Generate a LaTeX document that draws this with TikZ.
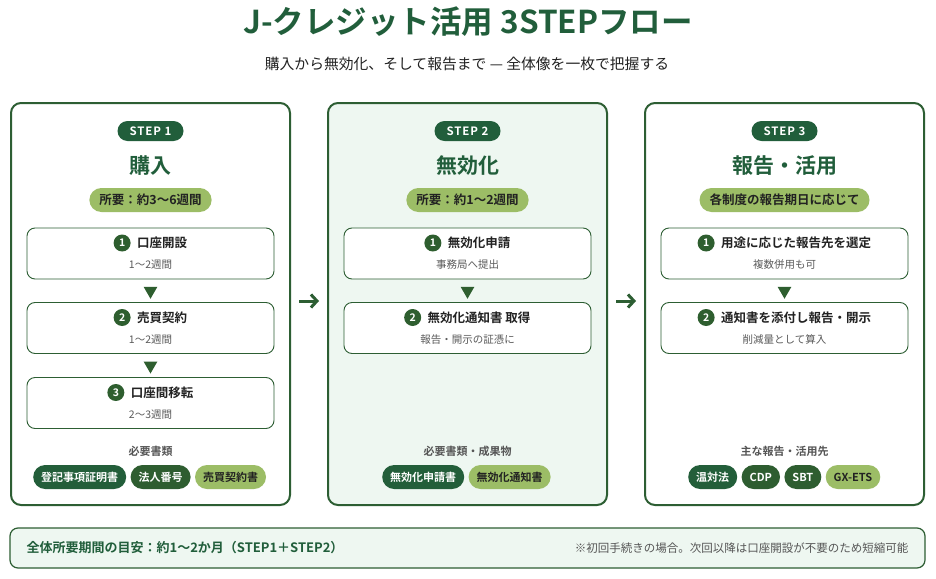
\documentclass[tikz,border=0pt]{standalone}
\usepackage{fontspec}
\setmainfont{Noto Sans CJK JP}[BoldFont={Noto Sans CJK JP Bold}]
\usetikzlibrary{arrows.meta,positioning,shapes.geometric,calc}
\definecolor{dkg}{HTML}{215E3B}
\definecolor{tagA}{HTML}{235E3A}
\definecolor{tagB}{HTML}{2E5D30}
\definecolor{circg}{HTML}{2E5E2F}
\definecolor{pbord}{HTML}{2D5E33}
\definecolor{olv}{HTML}{9CBD66}
\definecolor{lightbg}{HTML}{EEF7F1}
\definecolor{txt}{HTML}{222222}
\definecolor{gray6}{HTML}{5A5A5A}
\definecolor{gray5}{HTML}{555555}
\tikzset{
  panel/.style={draw=pbord, line width=2pt, rounded corners=10pt, minimum width=279pt, minimum height=402pt, inner sep=0pt},
  badge/.style={fill=dkg, text=white, rounded corners=10pt, minimum width=66pt, minimum height=20pt, inner sep=0pt, font=\bfseries\fontsize{11.5}{12}\selectfont\addfontfeature{LetterSpace=8}},
  heading/.style={text=dkg, inner sep=0pt, font=\bfseries\fontsize{21}{24}\selectfont},
  pill/.style={fill=olv, rounded corners=12pt, minimum height=24pt, inner xsep=10pt, inner ysep=0pt, text=txt, font=\bfseries\fontsize{12.5}{14}\selectfont},
  stepbox/.style={draw=pbord, line width=0.9pt, fill=white, rounded corners=8pt, minimum width=247pt, minimum height=51pt, inner sep=0pt},
  numc/.style={circle, fill=circg, text=white, minimum size=17pt, inner sep=0pt, font=\bfseries\fontsize{10.5}{10}\selectfont},
  stitle/.style={text=txt, inner sep=0pt, font=\bfseries\fontsize{12.5}{14}\selectfont},
  ssub/.style={text=gray6, inner sep=0pt, font=\fontsize{10.5}{12}\selectfont},
  tri/.style={regular polygon, regular polygon sides=3, shape border rotate=180, fill=circg, minimum size=16pt, inner sep=0pt},
  sect/.style={text=gray5, inner sep=0pt, font=\bfseries\fontsize{11}{13}\selectfont},
  tagd/.style={fill=tagA, text=white, rounded corners=12pt, minimum height=24pt, inner xsep=8pt, inner ysep=0pt, font=\bfseries\fontsize{11}{13}\selectfont},
  tagm/.style={tagd, fill=tagB},
  tagl/.style={tagd, fill=olv, text=txt},
  flow/.style={draw=pbord, line width=3pt, -{Straight Barb[length=6pt,width=13pt,line width=3pt]}}
}
\begin{document}
\begin{tikzpicture}[x=1pt,y=-1pt]
\useasboundingbox (0,0) rectangle (936,578);
\fill[white] (0,0) rectangle (936,578);

% title
\node[text=dkg, font=\bfseries\fontsize{31.5}{34}\selectfont] (title) at (468,22) {J-クレジット活用 3STEPフロー};
\node[text=txt, font=\fontsize{14.8}{16}\selectfont] (subtitle) at (467,64) {購入から無効化、そして報告まで — 全体像を一枚で把握する};

% panels
\node[panel, fill=white] (p1) at (150.5,304) {};
\node[panel, fill=lightbg] (p2) at (467.5,304) {};
\node[panel, fill=white] (p3) at (784.5,304) {};

\draw[flow] ($(p1.east)+(8,-3)$) -- ($(p2.west)+(-8,-3)$);
\draw[flow] ($(p2.east)+(8,-3)$) -- ($(p3.west)+(-8,-3)$);

% ---------- STEP 1 ----------
\node[badge] (s1b) at (150.5,131) {STEP 1};
\node[heading] (s1h) at (150.5,166) {購入};
\node[pill] (s1p) at (150.5,200) {所要：約3〜6週間};

\node[stepbox] (a1) at (150.5,253.5) {};
\node[stitle] (a1t) at ($(a1.center)+(11.5,-10.5)$) {口座開設};
\node[numc, left=6pt of a1t] (a1n) {1};
\node[ssub] (a1s) at ($(a1.center)+(0,11.5)$) {1〜2週間};

\node[stepbox] (a2) at (150.5,328) {};
\node[stitle] (a2t) at ($(a2.center)+(11.5,-10.5)$) {売買契約};
\node[numc, left=6pt of a2t] (a2n) {2};
\node[ssub] (a2s) at ($(a2.center)+(0,11.5)$) {1〜2週間};

\node[stepbox] (a3) at (150.5,403) {};
\node[stitle] (a3t) at ($(a3.center)+(11.5,-10.5)$) {口座間移転};
\node[numc, left=6pt of a3t] (a3n) {3};
\node[ssub] (a3s) at ($(a3.center)+(0,11.5)$) {2〜3週間};

\node[tri] (a12) at ($(a1.south)!0.5!(a2.north)$) {};
\node[tri] (a23) at ($(a2.south)!0.5!(a3.north)$) {};

\node[sect] (s1sec) at (150.5,451) {必要書類};
\node[tagd, anchor=west] (t11) at (33,477) {登記事項証明書};
\node[tagm, right=4pt of t11] (t12) {法人番号};
\node[tagl, right=4pt of t12] (t13) {売買契約書};

% ---------- STEP 2 ----------
\node[badge] (s2b) at (467.5,131) {STEP 2};
\node[heading] (s2h) at (467.5,166) {無効化};
\node[pill] (s2p) at (467.5,200) {所要：約1〜2週間};

\node[stepbox] (b1) at (467.5,253.5) {};
\node[stitle] (b1t) at ($(b1.center)+(11.5,-10.5)$) {無効化申請};
\node[numc, left=6pt of b1t] (b1n) {1};
\node[ssub] (b1s) at ($(b1.center)+(0,11.5)$) {事務局へ提出};

\node[stepbox] (b2) at (467.5,328) {};
\node[stitle] (b2t) at ($(b2.center)+(11.5,-10.5)$) {無効化通知書 取得};
\node[numc, left=6pt of b2t] (b2n) {2};
\node[ssub] (b2s) at ($(b2.center)+(0,11.5)$) {報告・開示の証憑に};

\node[tri] (b12) at ($(b1.south)!0.5!(b2.north)$) {};

\node[sect] (s2sec) at (467.5,451) {必要書類・成果物};
\node[tagd, anchor=west] (t21) at (382,477) {無効化申請書};
\node[tagl, right=4pt of t21] (t22) {無効化通知書};

% ---------- STEP 3 ----------
\node[badge] (s3b) at (784.5,131) {STEP 3};
\node[heading] (s3h) at (784.5,166) {報告・活用};
\node[pill] (s3p) at (784.5,200) {各制度の報告期日に応じて};

\node[stepbox] (c1) at (784.5,253.5) {};
\node[stitle] (c1t) at ($(c1.center)+(11.5,-10.5)$) {用途に応じた報告先を選定};
\node[numc, left=6pt of c1t] (c1n) {1};
\node[ssub] (c1s) at ($(c1.center)+(0,11.5)$) {複数併用も可};

\node[stepbox] (c2) at (784.5,328) {};
\node[stitle] (c2t) at ($(c2.center)+(11.5,-10.5)$) {通知書を添付し報告・開示};
\node[numc, left=6pt of c2t] (c2n) {2};
\node[ssub] (c2s) at ($(c2.center)+(0,11.5)$) {削減量として算入};

\node[tri] (c12) at ($(c1.south)!0.5!(c2.north)$) {};

\node[sect] (s3sec) at (784.5,451) {主な報告・活用先};
\node[tagd, anchor=west] (t31) at (688,477) {温対法};
\node[tagm, right=4pt of t31] (t32) {CDP};
\node[tagm, right=4pt of t32] (t33) {SBT};
\node[tagl, right=4pt of t33] (t34) {GX-ETS};

% ---------- bottom bar ----------
\node[draw=pbord, line width=1.2pt, fill=lightbg, rounded corners=8pt, minimum width=915pt, minimum height=40pt, inner sep=0pt] (bar) at (467.5,548) {};
\node[anchor=west, text=dkg, inner sep=0pt, font=\bfseries\fontsize{13}{14}\selectfont] (barL) at ($(bar.west)+(17,0)$) {全体所要期間の目安：約1〜2か月（STEP1＋STEP2）};
\node[anchor=east, text=gray5, inner sep=0pt, font=\fontsize{11.5}{13}\selectfont] (barR) at ($(bar.east)+(-17,0)$) {※初回手続きの場合。次回以降は口座開設が不要のため短縮可能};
\end{tikzpicture}
\end{document}
